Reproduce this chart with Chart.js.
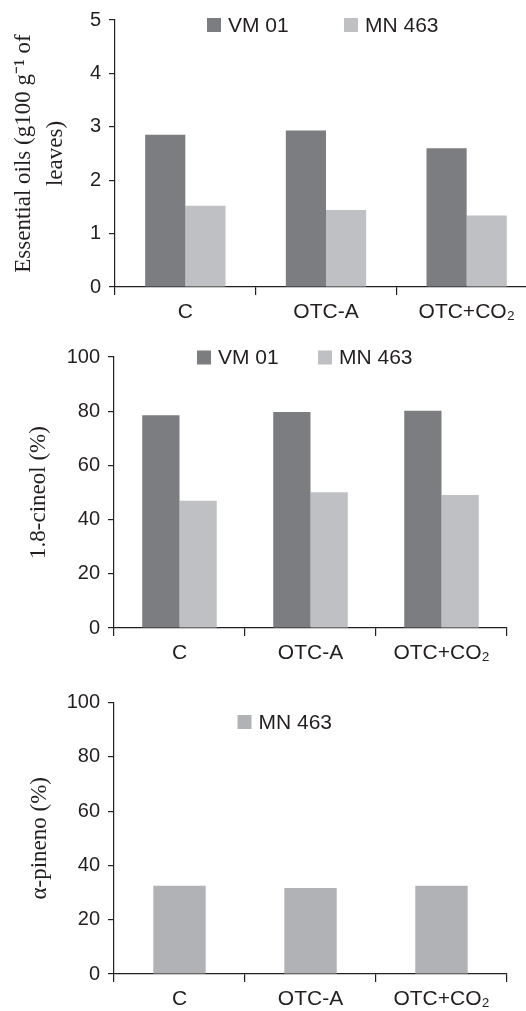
<!DOCTYPE html>
<html><head><meta charset="utf-8">
<script src="https://cdn.jsdelivr.net/npm/chart.js@4.4.1/dist/chart.umd.min.js"></script>
<style>
html,body{margin:0;padding:0;background:#fff;overflow:hidden;width:526px;height:1011px;position:relative;}
canvas{position:absolute;left:0;}
</style></head><body>
<canvas id="c1" width="560" height="325" style="top:0px"></canvas>
<canvas id="c2" width="526" height="345" style="top:325px"></canvas>
<canvas id="c3" width="526" height="341" style="top:670px"></canvas>
<script>
// ---- data ----
const categories = ['C', 'OTC-A', 'OTC+CO\u2082'];
const seriesNames = ['VM 01', 'MN 463'];
const oilVM01 = [2.85, 2.93, 2.60];
const oilMN463 = [1.52, 1.44, 1.34];
const cineolVM01 = [78.5, 79.7, 80.2];
const cineolMN463 = [47.0, 50.1, 49.1];
const pinenoMN463 = [32.5, 31.7, 32.5];
const oilTitle = ['Essential oils (g100 g\u207B\u00B9 of', 'leaves)'];
const cineolTitle = '1.8-cineol (%)';
const pinenoTitle = '\u03B1-pineno (%)';

// ---- styles ----
const textColor = '#231f20';
const axisColor = '#231f20';
const darkGray = '#7c7d81';
const lightGray = '#bfc0c3';
const midGray = '#b1b2b5';
const sans = '"Liberation Sans", Arial, Helvetica, sans-serif';
const serif = '"Liberation Serif", "Times New Roman", serif';

Chart.defaults.animation = false;
Chart.defaults.responsive = false;
Chart.defaults.devicePixelRatio = 1;

const insideLegend = {
  id: 'insideLegend',
  afterDraw(chart, args, opts) {
    const ctx = chart.ctx;
    ctx.save();
    ctx.font = '21px ' + sans;
    ctx.textBaseline = 'middle';
    ctx.textAlign = 'left';
    chart.data.datasets.forEach((ds, i) => {
      const x = opts.x[i];
      ctx.fillStyle = ds.backgroundColor;
      ctx.fillRect(x, opts.y - 7, 14, 14);
      ctx.fillStyle = textColor;
      ctx.fillText(ds.label, x + 21, opts.y + 1);
    });
    ctx.restore();
  }
};

function makeScales(max, step, yTitle, titlePad, titleLH, yWidth, xHeight) {
  return {
    x: {
      grid: { display: true, drawOnChartArea: false, drawTicks: true, tickLength: 8, color: axisColor, lineWidth: 1.2 },
      border: { display: true, color: axisColor, width: 1.2 },
      ticks: { color: textColor, font: { family: sans, size: 21 }, padding: 5, maxRotation: 0, autoSkip: false },
      afterFit(s) { s.height = xHeight; }
    },
    y: {
      min: 0, max: max,
      ticks: { stepSize: step, color: textColor, font: { family: sans, size: 20 }, padding: 8 },
      grid: { display: true, drawOnChartArea: false, drawTicks: true, tickLength: 6, color: axisColor, lineWidth: 1.2 },
      border: { display: true, color: axisColor, width: 1.2 },
      title: { display: true, text: yTitle, color: textColor, font: { family: serif, size: 23, lineHeight: titleLH }, padding: { top: titlePad, bottom: 0 } },
      afterFit(s) { s.width = yWidth; }
    }
  };
}

function makeChart(id, datasets, scales, padding, legendOpts) {
  return new Chart(document.getElementById(id), {
    type: 'bar',
    data: { labels: categories, datasets: datasets },
    options: {
      layout: { padding: padding },
      scales: scales,
      plugins: { legend: { display: false }, tooltip: { enabled: false }, insideLegend: legendOpts }
    },
    plugins: [insideLegend]
  });
}

// Chart 1: essential oils
makeChart('c1', [
  { label: seriesNames[0], data: oilVM01, backgroundColor: darkGray, borderWidth: 0, barPercentage: 1, categoryPercentage: 0.571 },
  { label: seriesNames[1], data: oilMN463, backgroundColor: lightGray, borderWidth: 0, barPercentage: 1, categoryPercentage: 0.571 }
], makeScales(5, 1, oilTitle, 8, 1.4, 115, 38), { top: 16, left: 0, right: 23, bottom: 0 }, { x: [207, 344], y: 25 });

// Chart 2: 1.8-cineol
makeChart('c2', [
  { label: seriesNames[0], data: cineolVM01, backgroundColor: darkGray, borderWidth: 0, barPercentage: 1, categoryPercentage: 0.569 },
  { label: seriesNames[1], data: cineolMN463, backgroundColor: lightGray, borderWidth: 0, barPercentage: 1, categoryPercentage: 0.569 }
], makeScales(100, 20, cineolTitle, 25, 1.2, 114, 42), { top: 32, left: 0, right: 19, bottom: 0 }, { x: [197, 318], y: 32.5 });

// Chart 3: alpha-pineno
makeChart('c3', [
  { label: seriesNames[1], data: pinenoMN463, backgroundColor: midGray, borderWidth: 0, barPercentage: 1, categoryPercentage: 0.4 }
], makeScales(100, 20, pinenoTitle, 26, 1.2, 114, 37), { top: 32.5, left: 0, right: 19, bottom: 0 }, { x: [237.5], y: 52 });
</script>
</body></html>
